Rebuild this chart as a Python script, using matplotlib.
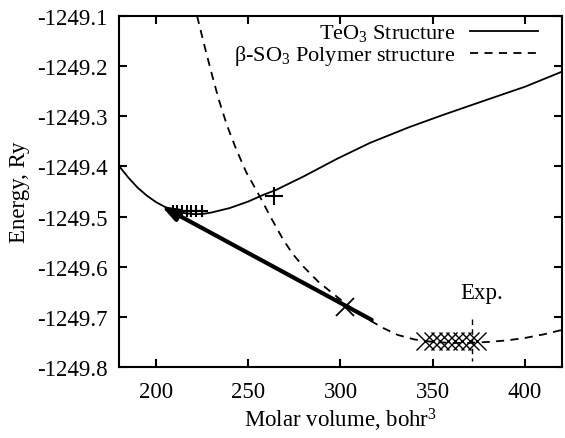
import matplotlib
matplotlib.use('Agg')
import matplotlib.pyplot as plt
import numpy as np

plt.rcParams['font.family'] = ['Liberation Serif', 'DejaVu Serif']
plt.rcParams['mathtext.fontset'] = 'custom'
plt.rcParams['mathtext.rm'] = 'Liberation Serif'
plt.rcParams['mathtext.it'] = 'Liberation Serif:italic'
plt.rcParams['font.size'] = 16.5

# TeO3 structure (solid)
v_teo3 = [180, 185, 190, 195, 200, 205, 210, 215, 220, 225, 230, 240, 250, 258, 265,
          280, 298, 316, 337, 355, 377, 400, 420]
e_teo3 = [-1249.399, -1249.422, -1249.442, -1249.458, -1249.471, -1249.481, -1249.488,
          -1249.493, -1249.495, -1249.495, -1249.492, -1249.483, -1249.470, -1249.457,
          -1249.447, -1249.420, -1249.385, -1249.353, -1249.322, -1249.298, -1249.270,
          -1249.241, -1249.211]

# beta-SO3 polymer structure (dashed)
v_so3 = [222.3, 226, 230, 234, 238.5, 243.4, 249, 256, 262, 268.8, 274, 279.7, 288,
         296.4, 305, 315, 323, 331, 340, 350, 360, 370, 380, 390, 400, 410, 420]
e_so3 = [-1249.100, -1249.155, -1249.212, -1249.266, -1249.318, -1249.365, -1249.412,
         -1249.458, -1249.500, -1249.545, -1249.574, -1249.599, -1249.630, -1249.655,
         -1249.680, -1249.705, -1249.722, -1249.736, -1249.745, -1249.750, -1249.752,
         -1249.752, -1249.750, -1249.747, -1249.742, -1249.735, -1249.726]

# calculated points
v_plus = [209, 211.6, 214.3, 216.7, 219.2, 221.7, 224.8]
e_plus = [-1249.489] * 7
v_cross = [346, 350, 354, 358, 362, 366, 370, 374]
e_cross = [-1249.748] * 8
big_plus = (264, -1249.459)
big_cross = (302.4, -1249.681)

# transition arrow and experiment
arrow_start = (316.9, -1249.706)
arrow_end = (203, -1249.479)
v_exp = 371.5
exp_range = (-1249.705, -1249.789)

fig = plt.figure(figsize=(5.65, 4.39), dpi=100)
ax = fig.add_axes([0.2106, 0.1617, 0.9947 - 0.2106, 0.9613 - 0.1617])

ax.plot(v_teo3, e_teo3, color='black', linewidth=1.3, label='TeO$_3$ Structure')
ax.plot(v_so3, e_so3, color='black', linewidth=1.3, linestyle=(0, (4.5, 3.5)),
        label='β-SO$_3$ Polymer structure')

ax.plot(v_plus, e_plus, linestyle='none', marker='+', color='black', markersize=9, mew=1.5)
ax.plot(v_cross, e_cross, linestyle='none', marker='x', color='black', markersize=13, mew=1)
ax.plot(*big_plus, marker='+', color='black', markersize=13, mew=1.5)
ax.plot(*big_cross, marker='x', color='black', markersize=13, mew=1.3)

ax.annotate('', xy=arrow_end, xytext=arrow_start,
            arrowprops=dict(arrowstyle='-|>,head_length=0.6,head_width=0.22',
                            color='black', lw=3, shrinkA=0, shrinkB=0))

ax.plot([v_exp, v_exp], exp_range, color='black', linewidth=1, linestyle=(0, (4, 3)))
ax.text(v_exp + 5, -1249.651, 'Exp.', ha='center', va='center')

ax.set_xlim(180, 420)
ax.set_ylim(-1249.8, -1249.1)
ax.set_xticks(np.arange(200, 401, 50))
ax.set_yticks(np.arange(-1249.8, -1249.09, 0.1))
ax.set_yticklabels(['%.1f' % t for t in np.arange(-1249.8, -1249.09, 0.1)])
ax.tick_params(direction='in', top=True, right=True, length=6, width=1.5, pad=8)
ax.tick_params(axis='x', pad=10)
for s in ax.spines.values():
    s.set_linewidth(1.5)

ax.set_xlabel('Molar volume, bohr$^3$', labelpad=3)
ax.set_ylabel('Energy, Ry', labelpad=5)

ax.legend(loc='upper right', bbox_to_anchor=(0.977, 1.02), markerfirst=False, frameon=False,
          handlelength=3.1, handletextpad=0.65, labelspacing=0.0, borderaxespad=0.2,
          fontsize=16)

fig.savefig('out.png', dpi=100)
